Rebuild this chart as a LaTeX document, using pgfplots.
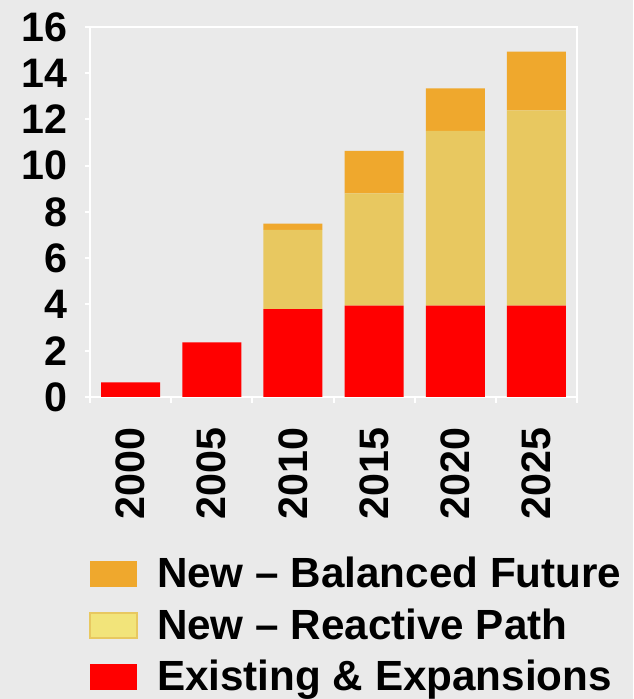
\documentclass[border=0pt]{standalone}
\usepackage{fontspec}
\setmainfont{Liberation Sans}
\usepackage{pgfplots}
\pgfplotsset{compat=1.18}
\definecolor{bg}{RGB}{234,234,234}
\definecolor{cred}{RGB}{255,0,0}
\definecolor{cyel}{RGB}{232,200,96}
\definecolor{cora}{RGB}{239,168,45}
\definecolor{legyel}{RGB}{242,228,122}
\pgfplotsset{mylegimg/.style={legend image code/.code={\path[##1] (0pt,-6.1pt) rectangle (23.3pt,6.1pt);}}}
\newcommand{\tickbf}{\fontsize{20.6}{21}\selectfont\bfseries}
\newcommand{\legbf}{\fontsize{21.1}{22}\selectfont\bfseries}
\begin{document}
\begin{tikzpicture}
\fill[bg] (0,0) rectangle (316.5pt,349.5pt);
\path[use as bounding box] (0,0) rectangle (316.5pt,349.5pt);
\begin{axis}[
  at={(45pt,151pt)}, anchor=south west,
  scale only axis, width=243.5pt, height=185pt,
  xmin=-0.5, xmax=5.5, ymin=0, ymax=16,
  ybar stacked, bar width=29.5pt,
  axis line style={white, line width=1pt},
  xtick={0,...,5}, xticklabels={2000,2005,2010,2015,2020,2025},
  minor xtick={-0.5,0.5,...,5.5},
  ytick={0,2,...,16},
  tick pos=left, tick align=outside,
  major tick length=2.5pt, minor tick length=3pt,
  major x tick style={draw=none},
  minor x tick style={white, line width=1pt},
  ytick style={white, line width=1pt},
  /pgf/number format/assume math mode=true,
  xticklabel style={rotate=90, anchor=east, inner sep=0pt, font=\tickbf},
  yticklabel style={inner sep=0pt, font=\tickbf},
  xticklabel shift=12.5pt, yticklabel shift=8.5pt,
  legend style={at={(-0.002,-0.4405)}, anchor=north west, draw=none, fill=none,
    inner sep=0pt, outer sep=0pt, row sep=11.75pt, font=\legbf,
    nodes={inner sep=0pt, text height=14pt, text depth=0pt},
    /tikz/every odd column/.style={column sep=9.7pt}},
  legend cell align=left,
]
\addlegendimage{mylegimg, fill=cora, draw=cora}
\addlegendentry{New -- Balanced Future}
\addlegendimage{mylegimg, fill=legyel, draw=cyel, line width=1pt}
\addlegendentry{New -- Reactive Path}
\addlegendimage{mylegimg, fill=cred, draw=cred}
\addlegendentry{Existing \& Expansions}
\addplot[fill=cred, draw=none] coordinates {(0,0.63) (1,2.36) (2,3.80) (3,3.95) (4,3.95) (5,3.95)};
\addplot[fill=cyel, draw=none] coordinates {(0,0) (1,0) (2,3.43) (3,4.85) (4,7.56) (5,8.44)};
\addplot[fill=cora, draw=none] coordinates {(0,0) (1,0) (2,0.27) (3,1.84) (4,1.84) (5,2.55)};
\end{axis}
\end{tikzpicture}
\end{document}
